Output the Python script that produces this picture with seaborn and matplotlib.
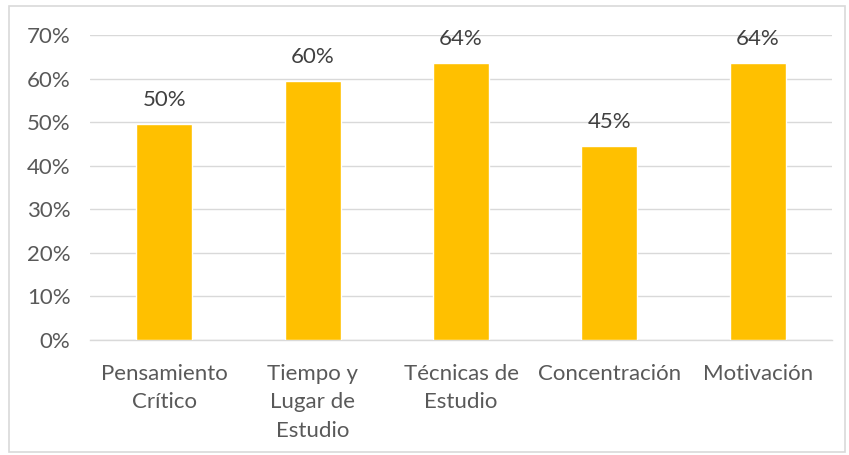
import matplotlib
matplotlib.use("Agg")
import matplotlib.pyplot as plt
import seaborn as sns
import pandas as pd
import numpy as np
from matplotlib.ticker import PercentFormatter, FixedLocator
from matplotlib.patches import Rectangle

categories = ["Pensamiento\nCrítico", "Tiempo y\nLugar de\nEstudio", "Técnicas de\nEstudio",
              "Concentración", "Motivación"]
values = [0.495, 0.594, 0.636, 0.445, 0.636]
labels = ["50%", "60%", "64%", "45%", "64%"]
yticks = [0, 0.1, 0.2, 0.3, 0.4, 0.5, 0.6, 0.7]

sns.set_theme(style="white")
plt.rcParams["font.family"] = ["Lato", "DejaVu Sans"]

df = pd.DataFrame({"cat": categories, "val": values})

fig = plt.figure(figsize=(8.49, 4.55), dpi=100)
ax = fig.add_axes([90/849, 1 - 340/455, (832-90)/849, (340-35)/455])

sns.barplot(data=df, x="cat", y="val", color="#FFC000", saturation=1, width=0.377, ax=ax, zorder=3)

ax.set_ylim(0, 0.7)
ax.set_xlim(-0.5, len(categories) - 0.5)
ax.yaxis.set_major_locator(FixedLocator(yticks))
ax.yaxis.set_major_formatter(PercentFormatter(1.0, decimals=0))
ax.grid(axis="y", color="#D9D9D9", linewidth=1.0, zorder=0)
ax.set_axisbelow(True)
ax.set_xlabel("")
ax.set_ylabel("")

for s in ["top", "right", "left"]:
    ax.spines[s].set_visible(False)
ax.spines["bottom"].set_color("#D9D9D9")
ax.spines["bottom"].set_linewidth(1.0)

ax.tick_params(axis="y", length=0, labelsize=16, labelcolor="#595959", pad=14)
ax.tick_params(axis="x", which="major", length=0, labelsize=16, labelcolor="#595959", pad=17)
ax.set_xticks(np.arange(-0.5, len(categories)), minor=True)
ax.tick_params(axis="x", which="minor", length=5, color="#D9D9D9", width=1.0, direction="out")
for t in ax.get_xticklabels():
    t.set_linespacing(1.55)

for i, (v, lab) in enumerate(zip(values, labels)):
    ax.annotate(lab, (i, v), xytext=(0, 10), textcoords="offset points",
                ha="center", va="bottom", fontsize=16, color="#404040")

fig.patches.append(Rectangle((9/849, 3/455), (845-9)/849, (449-3)/455, transform=fig.transFigure,
                             fill=False, edgecolor="#D9D9D9", linewidth=1.2))

fig.savefig("out.png", dpi=100)
